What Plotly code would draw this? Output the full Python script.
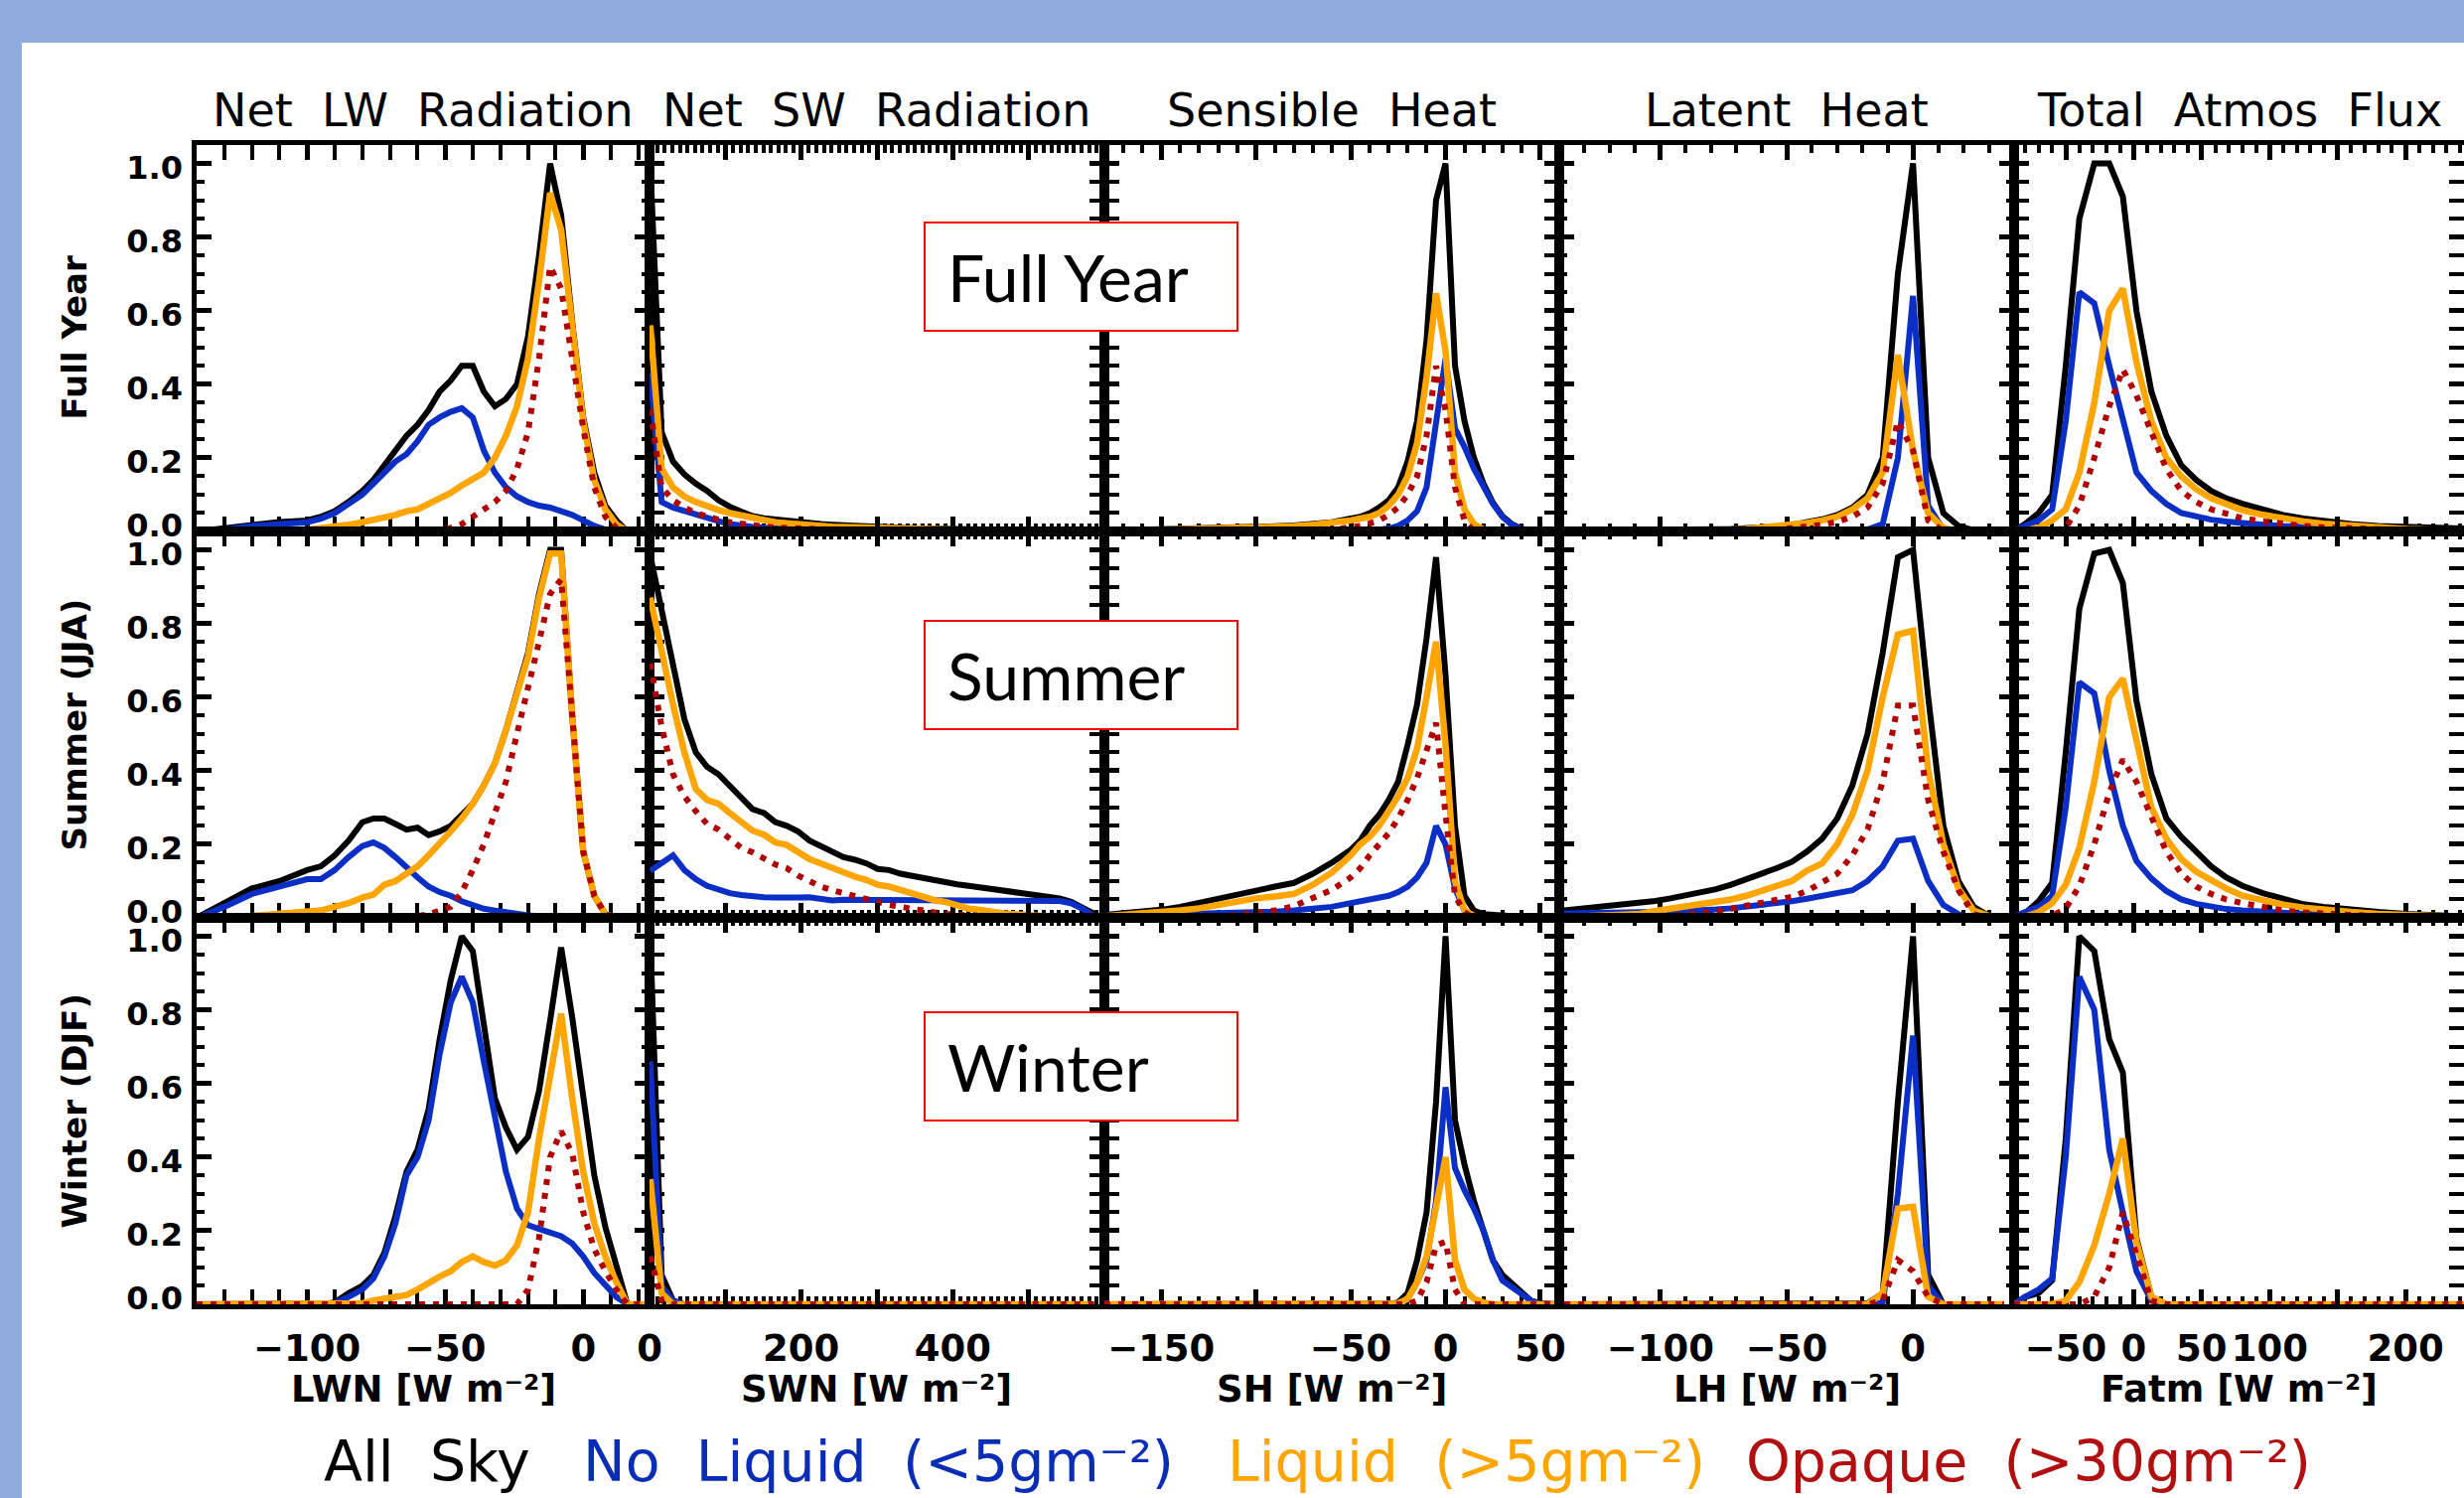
import plotly.graph_objects as go

W, H = 2481, 1508

# ---------------- data ----------------
LWN_X = [-140, -130, -120, -110, -100, -95, -90, -85, -80, -76, -72, -68, -64, -60, -56, -52, -48, -44,
         -40, -36, -32, -28, -24, -20, -16, -12, -8, -4, 0, 4, 8, 12, 16, 20, 24]
LWN_FY_ALL = [0.0, 0.01, 0.02, 0.026, 0.03, 0.04, 0.055, 0.08, 0.11, 0.14, 0.18, 0.22, 0.26, 0.29, 0.33, 0.38, 0.41, 0.45,
              0.45, 0.38, 0.34, 0.36, 0.40, 0.53, 0.75, 1.0, 0.86, 0.57, 0.31, 0.16, 0.07, 0.03, 0.0, 0.0, 0.0]
LWN_FY_NOLIQ = [0.0, 0.005, 0.015, 0.02, 0.025, 0.035, 0.05, 0.075, 0.10, 0.13, 0.16, 0.19, 0.21, 0.245, 0.29, 0.31, 0.325, 0.335,
                0.31, 0.22, 0.16, 0.12, 0.095, 0.08, 0.07, 0.065, 0.055, 0.045, 0.03, 0.015, 0.005, 0.0, 0.0, 0.0, 0.0]
LWN_FY_LIQ = [0.0, 0.0, 0.002, 0.003, 0.005, 0.008, 0.012, 0.018, 0.025, 0.03, 0.038, 0.045, 0.055, 0.06, 0.075, 0.09, 0.105, 0.125,
              0.145, 0.16, 0.2, 0.26, 0.34, 0.47, 0.68, 0.92, 0.82, 0.55, 0.30, 0.14, 0.06, 0.02, 0.0, 0.0, 0.0]
LWN_FY_OPQ = [0.0, 0.0, 0.0, 0.0, 0.0, 0.0, 0.0, 0.0, 0.0, 0.0, 0.0, 0.0, 0.0, 0.0, 0.0, 0.0, 0.01, 0.02,
              0.04, 0.06, 0.08, 0.11, 0.17, 0.27, 0.47, 0.72, 0.66, 0.47, 0.28, 0.12, 0.04, 0.01, 0.0, 0.0, 0.0]
LWN_SU_ALL = [0.0, 0.04, 0.08, 0.10, 0.13, 0.14, 0.17, 0.21, 0.26, 0.27, 0.27, 0.255, 0.24, 0.245, 0.225, 0.235, 0.25, 0.28,
              0.31, 0.36, 0.42, 0.51, 0.62, 0.72, 0.88, 1.0, 1.0, 0.55, 0.18, 0.06, 0.01, 0.0, 0.0, 0.0, 0.0]
LWN_SU_NOLIQ = [0.0, 0.03, 0.065, 0.085, 0.105, 0.105, 0.13, 0.165, 0.195, 0.205, 0.19, 0.165, 0.135, 0.11, 0.085, 0.07, 0.06, 0.045,
                0.035, 0.025, 0.02, 0.015, 0.01, 0.007, 0.005, 0.003, 0.0, 0.0, 0.0, 0.0, 0.0, 0.0, 0.0, 0.0, 0.0]
LWN_SU_LIQ = [0.0, 0.0, 0.005, 0.01, 0.015, 0.02, 0.03, 0.04, 0.055, 0.063, 0.09, 0.1, 0.12, 0.14, 0.17, 0.2, 0.235, 0.27,
              0.31, 0.36, 0.42, 0.51, 0.61, 0.71, 0.87, 0.99, 0.99, 0.55, 0.18, 0.06, 0.01, 0.0, 0.0, 0.0, 0.0]
LWN_SU_OPQ = [0.0, 0.0, 0.0, 0.0, 0.0, 0.0, 0.0, 0.0, 0.0, 0.0, 0.0, 0.0, 0.0, 0.005, 0.01, 0.02, 0.03, 0.07,
              0.13, 0.2, 0.28, 0.37, 0.5, 0.62, 0.75, 0.88, 0.92, 0.55, 0.18, 0.06, 0.01, 0.0, 0.0, 0.0, 0.0]
LWN_WI_ALL = [0.0, 0.0, 0.0, 0.0, 0.0, 0.0, 0.005, 0.03, 0.05, 0.08, 0.14, 0.24, 0.36, 0.42, 0.53, 0.72, 0.88, 1.0,
              0.96, 0.75, 0.56, 0.48, 0.42, 0.455, 0.58, 0.77, 0.97, 0.78, 0.55, 0.35, 0.21, 0.1, 0.0, 0.0, 0.0]
LWN_WI_NOLIQ = [0.0, 0.0, 0.0, 0.0, 0.0, 0.0, 0.003, 0.02, 0.04, 0.07, 0.13, 0.22, 0.35, 0.40, 0.50, 0.68, 0.82, 0.89,
                0.82, 0.66, 0.5, 0.36, 0.26, 0.215, 0.205, 0.195, 0.185, 0.165, 0.13, 0.085, 0.05, 0.02, 0.0, 0.0, 0.0]
LWN_WI_LIQ = [0.0, 0.0, 0.0, 0.0, 0.0, 0.0, 0.0, 0.0, 0.003, 0.01, 0.015, 0.02, 0.025, 0.04, 0.06, 0.075, 0.09, 0.115,
              0.13, 0.115, 0.105, 0.12, 0.16, 0.25, 0.45, 0.63, 0.79, 0.56, 0.36, 0.22, 0.13, 0.06, 0.0, 0.0, 0.0]
LWN_WI_OPQ = [0.0, 0.0, 0.0, 0.0, 0.0, 0.0, 0.0, 0.0, 0.0, 0.0, 0.0, 0.0, 0.0, 0.0, 0.0, 0.0, 0.0, 0.0,
              0.0, 0.0, 0.0, 0.0, 0.0, 0.04, 0.18, 0.4, 0.47, 0.41, 0.25, 0.15, 0.09, 0.04, 0.0, 0.0, 0.0]

SWN_X = [1, 16, 31, 46, 61, 76, 91, 106, 121, 136, 151, 166, 181, 196, 211, 226, 241, 256, 271, 286,
         301, 316, 331, 346, 361, 376, 391, 406, 421, 436, 451, 466, 481, 496, 511, 526, 541, 556, 571, 586]
SWN_FY_ALL = [1.0, 0.27, 0.19, 0.155, 0.13, 0.11, 0.085, 0.067, 0.054, 0.042, 0.036, 0.032, 0.028, 0.025, 0.022, 0.02, 0.018, 0.016, 0.015, 0.014,
              0.012, 0.011, 0.01, 0.009, 0.008, 0.008, 0.007, 0.007, 0.006, 0.006, 0.005, 0.005, 0.004, 0.004, 0.004, 0.003, 0.003, 0.003, 0.002, 0.002]
SWN_FY_NOLIQ = [0.43, 0.08, 0.065, 0.055, 0.045, 0.035, 0.028, 0.02, 0.015, 0.012, 0.01, 0.008, 0.007, 0.006, 0.005, 0.005, 0.004, 0.004, 0.003, 0.003,
                0.002, 0.002, 0.002, 0.002, 0.002, 0.002, 0.002, 0.002, 0.002, 0.002, 0.001, 0.001, 0.001, 0.001, 0.001, 0.001, 0.001, 0.001, 0.001, 0.001]
SWN_FY_LIQ = [0.56, 0.17, 0.12, 0.095, 0.08, 0.068, 0.058, 0.05, 0.043, 0.036, 0.03, 0.025, 0.022, 0.019, 0.017, 0.015, 0.013, 0.012, 0.011, 0.01,
              0.009, 0.008, 0.007, 0.007, 0.006, 0.005, 0.005, 0.004, 0.004, 0.003, 0.003, 0.003, 0.002, 0.002, 0.002, 0.002, 0.001, 0.001, 0.001, 0.001]
SWN_FY_OPQ = [0.33, 0.12, 0.085, 0.065, 0.05, 0.04, 0.032, 0.025, 0.02, 0.016, 0.013, 0.011, 0.009, 0.008, 0.007, 0.006, 0.005, 0.004, 0.004, 0.003,
              0.002, 0.002, 0.002, 0.002, 0.002, 0.002, 0.002, 0.002, 0.002, 0.002, 0.001, 0.001, 0.001, 0.001, 0.001, 0.001, 0.001, 0.001, 0.001, 0.001]
SWN_SU_ALL = [0.985, 0.83, 0.685, 0.54, 0.45, 0.41, 0.39, 0.36, 0.325, 0.295, 0.285, 0.26, 0.25, 0.235, 0.21, 0.195, 0.18, 0.165, 0.158, 0.148,
              0.133, 0.13, 0.12, 0.114, 0.106, 0.1, 0.097, 0.091, 0.087, 0.083, 0.079, 0.075, 0.071, 0.065, 0.06, 0.056, 0.053, 0.044, 0.03, 0.012]
SWN_SU_NOLIQ = [0.128, 0.148, 0.17, 0.13, 0.105, 0.087, 0.075, 0.067, 0.062, 0.058, 0.056, 0.055, 0.053, 0.055, 0.056, 0.05, 0.047, 0.049, 0.049, 0.049,
                0.048, 0.048, 0.047, 0.048, 0.049, 0.048, 0.047, 0.048, 0.05, 0.05, 0.049, 0.048, 0.049, 0.05, 0.048, 0.047, 0.046, 0.04, 0.025, 0.005]
SWN_SU_LIQ = [0.87, 0.72, 0.58, 0.45, 0.35, 0.32, 0.31, 0.285, 0.26, 0.237, 0.226, 0.205, 0.198, 0.18, 0.16, 0.148, 0.135, 0.122, 0.112, 0.103,
              0.09, 0.085, 0.075, 0.066, 0.055, 0.048, 0.043, 0.035, 0.025, 0.022, 0.016, 0.012, 0.01, 0.007, 0.004, 0.003, 0.002, 0.001, 0.0, 0.0]
SWN_SU_OPQ = [0.69, 0.52, 0.39, 0.33, 0.29, 0.255, 0.24, 0.215, 0.19, 0.178, 0.16, 0.145, 0.135, 0.115, 0.1, 0.085, 0.075, 0.067, 0.058, 0.05,
              0.04, 0.035, 0.03, 0.024, 0.019, 0.015, 0.011, 0.008, 0.006, 0.004, 0.003, 0.002, 0.001, 0.001, 0.0, 0.0, 0.0, 0.0, 0.0, 0.0]
SWN_WI_ALL = [1.0, 0.08, 0.01, 0.0, 0.0, 0.0, 0.0, 0.0, 0.0, 0.0, 0.0, 0.0, 0.0, 0.0, 0.0, 0.0, 0.0, 0.0, 0.0, 0.0,
              0.0, 0.0, 0.0, 0.0, 0.0, 0.0, 0.0, 0.0, 0.0, 0.0, 0.0, 0.0, 0.0, 0.0, 0.0, 0.0, 0.0, 0.0, 0.0, 0.0]
SWN_WI_NOLIQ = [0.66, 0.05, 0.01, 0.0, 0.0, 0.0, 0.0, 0.0, 0.0, 0.0, 0.0, 0.0, 0.0, 0.0, 0.0, 0.0, 0.0, 0.0, 0.0, 0.0,
                0.0, 0.0, 0.0, 0.0, 0.0, 0.0, 0.0, 0.0, 0.0, 0.0, 0.0, 0.0, 0.0, 0.0, 0.0, 0.0, 0.0, 0.0, 0.0, 0.0]
SWN_WI_LIQ = [0.34, 0.03, 0.0, 0.0, 0.0, 0.0, 0.0, 0.0, 0.0, 0.0, 0.0, 0.0, 0.0, 0.0, 0.0, 0.0, 0.0, 0.0, 0.0, 0.0,
              0.0, 0.0, 0.0, 0.0, 0.0, 0.0, 0.0, 0.0, 0.0, 0.0, 0.0, 0.0, 0.0, 0.0, 0.0, 0.0, 0.0, 0.0, 0.0, 0.0]
SWN_WI_OPQ = [0.13, 0.01, 0.0, 0.0, 0.0, 0.0, 0.0, 0.0, 0.0, 0.0, 0.0, 0.0, 0.0, 0.0, 0.0, 0.0, 0.0, 0.0, 0.0, 0.0,
              0.0, 0.0, 0.0, 0.0, 0.0, 0.0, 0.0, 0.0, 0.0, 0.0, 0.0, 0.0, 0.0, 0.0, 0.0, 0.0, 0.0, 0.0, 0.0, 0.0]

SH_X = [-180, -170, -160, -150, -140, -130, -120, -110, -100, -90, -80, -70, -60, -50, -45, -40, -35, -30,
        -25, -20, -15, -10, -5, 0, 5, 10, 15, 20, 25, 30, 35, 40, 45, 50, 55, 60]
SH_FY_ALL = [0.002, 0.003, 0.003, 0.004, 0.005, 0.006, 0.008, 0.01, 0.012, 0.014, 0.016, 0.02, 0.025, 0.035, 0.04, 0.05, 0.065, 0.085,
             0.12, 0.19, 0.30, 0.52, 0.9, 1.0, 0.45, 0.3, 0.2, 0.13, 0.078, 0.042, 0.02, 0.007, 0.002, 0.0, 0.0, 0.0]
SH_FY_NOLIQ = [0.001, 0.001, 0.001, 0.001, 0.001, 0.001, 0.001, 0.001, 0.002, 0.002, 0.002, 0.002, 0.002, 0.003, 0.003, 0.004, 0.005, 0.008,
               0.015, 0.03, 0.055, 0.12, 0.3, 0.47, 0.28, 0.23, 0.17, 0.12, 0.075, 0.04, 0.018, 0.006, 0.001, 0.0, 0.0, 0.0]
SH_FY_LIQ = [0.001, 0.002, 0.002, 0.003, 0.004, 0.005, 0.007, 0.008, 0.01, 0.012, 0.014, 0.018, 0.022, 0.03, 0.035, 0.04, 0.05, 0.07,
             0.1, 0.15, 0.24, 0.42, 0.647, 0.49, 0.16, 0.06, 0.02, 0.005, 0.0, 0.0, 0.0, 0.0, 0.0, 0.0, 0.0, 0.0]
SH_FY_OPQ = [0.0, 0.0, 0.0, 0.0, 0.001, 0.001, 0.001, 0.002, 0.002, 0.002, 0.003, 0.003, 0.005, 0.01, 0.015, 0.022, 0.03, 0.045,
             0.065, 0.1, 0.15, 0.26, 0.45, 0.33, 0.12, 0.03, 0.0, 0.0, 0.0, 0.0, 0.0, 0.0, 0.0, 0.0, 0.0, 0.0]
SH_SU_ALL = [0.008, 0.012, 0.017, 0.022, 0.03, 0.042, 0.052, 0.065, 0.074, 0.085, 0.095, 0.12, 0.15, 0.185, 0.21, 0.25, 0.28, 0.32,
             0.37, 0.47, 0.58, 0.76, 0.98, 0.66, 0.25, 0.06, 0.02, 0.01, 0.008, 0.005, 0.003, 0.002, 0.001, 0.0, 0.0, 0.0]
SH_SU_NOLIQ = [0.005, 0.006, 0.007, 0.008, 0.009, 0.01, 0.012, 0.013, 0.015, 0.017, 0.02, 0.025, 0.03, 0.04, 0.045, 0.05, 0.055, 0.06,
               0.07, 0.085, 0.11, 0.15, 0.25, 0.2, 0.08, 0.02, 0.005, 0.0, 0.0, 0.0, 0.0, 0.0, 0.0, 0.0, 0.0, 0.0]
SH_SU_LIQ = [0.005, 0.008, 0.011, 0.015, 0.02, 0.026, 0.035, 0.045, 0.053, 0.058, 0.065, 0.09, 0.123, 0.17, 0.2, 0.22, 0.25, 0.29,
             0.33, 0.38, 0.46, 0.6, 0.75, 0.47, 0.1, 0.02, 0.005, 0.0, 0.0, 0.0, 0.0, 0.0, 0.0, 0.0, 0.0, 0.0]
SH_SU_OPQ = [0.001, 0.001, 0.002, 0.002, 0.003, 0.004, 0.005, 0.008, 0.012, 0.02, 0.032, 0.053, 0.076, 0.11, 0.135, 0.17, 0.2, 0.23,
             0.27, 0.32, 0.38, 0.45, 0.53, 0.28, 0.06, 0.015, 0.0, 0.0, 0.0, 0.0, 0.0, 0.0, 0.0, 0.0, 0.0, 0.0]
SH_WI_ALL = [0.0, 0.0, 0.0, 0.0, 0.0, 0.0, 0.0, 0.0, 0.0, 0.0, 0.0, 0.0, 0.0, 0.0, 0.0, 0.0, 0.0, 0.0,
             0.005, 0.03, 0.12, 0.25, 0.55, 1.0, 0.5, 0.38, 0.28, 0.2, 0.12, 0.08, 0.055, 0.03, 0.01, 0.003, 0.0, 0.0]
SH_WI_NOLIQ = [0.0, 0.0, 0.0, 0.0, 0.0, 0.0, 0.0, 0.0, 0.0, 0.0, 0.0, 0.0, 0.0, 0.0, 0.0, 0.0, 0.0, 0.0,
               0.003, 0.015, 0.06, 0.12, 0.28, 0.59, 0.37, 0.31, 0.26, 0.2, 0.12, 0.065, 0.045, 0.03, 0.01, 0.0, 0.0, 0.0]
SH_WI_LIQ = [0.0, 0.0, 0.0, 0.0, 0.0, 0.0, 0.0, 0.0, 0.0, 0.0, 0.0, 0.0, 0.0, 0.0, 0.0, 0.0, 0.0, 0.0,
             0.002, 0.015, 0.06, 0.13, 0.27, 0.4, 0.12, 0.04, 0.015, 0.005, 0.0, 0.0, 0.0, 0.0, 0.0, 0.0, 0.0, 0.0]
SH_WI_OPQ = [0.0, 0.0, 0.0, 0.0, 0.0, 0.0, 0.0, 0.0, 0.0, 0.0, 0.0, 0.0, 0.0, 0.0, 0.0, 0.0, 0.0, 0.0,
             0.0, 0.0, 0.01, 0.06, 0.16, 0.17, 0.04, 0.0, 0.0, 0.0, 0.0, 0.0, 0.0, 0.0, 0.0, 0.0, 0.0, 0.0]

LH_X = [-138, -132, -126, -120, -114, -108, -102, -96, -90, -84, -78, -72, -66, -60, -54,
        -48, -42, -36, -30, -24, -18, -12, -6, 0, 6, 12, 18, 24, 30, 36]
LH_FY_ALL = [0.002, 0.002, 0.002, 0.003, 0.003, 0.003, 0.004, 0.004, 0.005, 0.005, 0.006, 0.007, 0.008, 0.01, 0.013,
             0.018, 0.025, 0.033, 0.045, 0.065, 0.1, 0.2, 0.7, 1.0, 0.2, 0.05, 0.015, 0.003, 0.0, 0.0]
LH_FY_NOLIQ = [0.001, 0.001, 0.001, 0.001, 0.001, 0.001, 0.001, 0.001, 0.001, 0.001, 0.002, 0.002, 0.002, 0.002, 0.002,
               0.002, 0.002, 0.002, 0.002, 0.003, 0.005, 0.02, 0.2, 0.64, 0.07, 0.005, 0.0, 0.0, 0.0, 0.0]
LH_FY_LIQ = [0.001, 0.001, 0.002, 0.002, 0.002, 0.002, 0.003, 0.003, 0.003, 0.004, 0.004, 0.005, 0.007, 0.01, 0.013,
             0.017, 0.023, 0.03, 0.04, 0.06, 0.09, 0.16, 0.48, 0.22, 0.05, 0.01, 0.0, 0.0, 0.0, 0.0]
LH_FY_OPQ = [0.0, 0.0, 0.0, 0.0, 0.001, 0.001, 0.001, 0.001, 0.001, 0.002, 0.002, 0.002, 0.002, 0.002, 0.005,
             0.008, 0.012, 0.018, 0.026, 0.04, 0.065, 0.13, 0.3, 0.22, 0.03, 0.0, 0.0, 0.0, 0.0, 0.0]
LH_SU_ALL = [0.02, 0.024, 0.028, 0.033, 0.036, 0.04, 0.046, 0.053, 0.06, 0.068, 0.078, 0.09, 0.104, 0.118, 0.135,
             0.152, 0.18, 0.215, 0.27, 0.36, 0.5, 0.72, 0.98, 1.0, 0.6, 0.25, 0.1, 0.03, 0.005, 0.0]
LH_SU_NOLIQ = [0.012, 0.012, 0.013, 0.014, 0.014, 0.015, 0.016, 0.017, 0.018, 0.02, 0.023, 0.026, 0.03, 0.033, 0.038,
               0.045, 0.052, 0.06, 0.068, 0.075, 0.1, 0.14, 0.21, 0.215, 0.1, 0.035, 0.01, 0.0, 0.0, 0.0]
LH_SU_LIQ = [0.002, 0.003, 0.004, 0.006, 0.008, 0.011, 0.019, 0.025, 0.03, 0.036, 0.043, 0.05, 0.06, 0.073, 0.085,
             0.1, 0.128, 0.148, 0.2, 0.28, 0.4, 0.6, 0.77, 0.78, 0.4, 0.2, 0.08, 0.02, 0.005, 0.0]
LH_SU_OPQ = [0.0, 0.0, 0.0, 0.0, 0.0, 0.001, 0.003, 0.005, 0.008, 0.012, 0.017, 0.025, 0.032, 0.04, 0.048,
             0.057, 0.073, 0.095, 0.12, 0.17, 0.24, 0.37, 0.577, 0.577, 0.32, 0.18, 0.075, 0.01, 0.0, 0.0]
LH_WI_ALL = [0.0, 0.0, 0.0, 0.0, 0.0, 0.0, 0.0, 0.0, 0.0, 0.0, 0.0, 0.0, 0.0, 0.0, 0.0,
             0.0, 0.0, 0.0, 0.0, 0.0, 0.003, 0.03, 0.55, 1.0, 0.08, 0.0, 0.0, 0.0, 0.0, 0.0]
LH_WI_NOLIQ = [0.0, 0.0, 0.0, 0.0, 0.0, 0.0, 0.0, 0.0, 0.0, 0.0, 0.0, 0.0, 0.0, 0.0, 0.0,
               0.0, 0.0, 0.0, 0.0, 0.0, 0.0, 0.005, 0.3, 0.73, 0.05, 0.0, 0.0, 0.0, 0.0, 0.0]
LH_WI_LIQ = [0.0, 0.0, 0.0, 0.0, 0.0, 0.0, 0.0, 0.0, 0.0, 0.0, 0.0, 0.0, 0.0, 0.0, 0.0,
             0.0, 0.0, 0.0, 0.0, 0.0, 0.0, 0.03, 0.26, 0.265, 0.02, 0.0, 0.0, 0.0, 0.0, 0.0]
LH_WI_OPQ = [0.0, 0.0, 0.0, 0.0, 0.0, 0.0, 0.0, 0.0, 0.0, 0.0, 0.0, 0.0, 0.0, 0.0, 0.0,
             0.0, 0.0, 0.0, 0.0, 0.0, 0.0, 0.01, 0.12, 0.09, 0.02, 0.0, 0.0, 0.0, 0.0, 0.0]

FATM_X = [-88, -80, -70, -60, -50, -40, -29, -18, -8, 2, 13, 24, 35, 46, 57, 68, 80, 95, 110, 125, 140, 160, 180, 200, 220, 243]
FATM_FY_ALL = [0.003, 0.02, 0.05, 0.1, 0.45, 0.85, 1.0, 1.0, 0.91, 0.6, 0.38, 0.26, 0.18, 0.14, 0.11, 0.09, 0.075, 0.06, 0.045,
               0.035, 0.027, 0.02, 0.015, 0.012, 0.01, 0.008]
FATM_FY_NOLIQ = [0.003, 0.015, 0.03, 0.06, 0.3, 0.65, 0.62, 0.45, 0.3, 0.16, 0.11, 0.075, 0.05, 0.04, 0.032, 0.027, 0.022, 0.018,
                 0.015, 0.013, 0.011, 0.009, 0.007, 0.005, 0.004, 0.003]
FATM_FY_LIQ = [0.0, 0.002, 0.01, 0.03, 0.06, 0.16, 0.35, 0.6, 0.66, 0.46, 0.3, 0.2, 0.15, 0.115, 0.09, 0.073, 0.058, 0.045,
               0.035, 0.027, 0.021, 0.015, 0.01, 0.007, 0.005, 0.003]
FATM_FY_OPQ = [0.0, 0.0, 0.0, 0.0, 0.01, 0.07, 0.2, 0.34, 0.44, 0.37, 0.27, 0.17, 0.11, 0.08, 0.06, 0.047, 0.036, 0.027,
               0.02, 0.015, 0.011, 0.008, 0.005, 0.003, 0.002, 0.001]
FATM_SU_ALL = [0.005, 0.012, 0.045, 0.095, 0.45, 0.84, 0.99, 1.0, 0.91, 0.59, 0.39, 0.27, 0.22, 0.18, 0.14, 0.11, 0.087, 0.067,
               0.05, 0.037, 0.03, 0.022, 0.016, 0.011, 0.007, 0.004]
FATM_SU_NOLIQ = [0.004, 0.015, 0.03, 0.06, 0.3, 0.64, 0.61, 0.4, 0.25, 0.155, 0.107, 0.073, 0.05, 0.038, 0.03, 0.024, 0.02, 0.016,
                 0.013, 0.011, 0.01, 0.008, 0.006, 0.005, 0.004, 0.003]
FATM_SU_LIQ = [0.0, 0.003, 0.015, 0.04, 0.09, 0.19, 0.37, 0.6, 0.65, 0.48, 0.3, 0.215, 0.16, 0.125, 0.1, 0.08, 0.06, 0.047,
               0.036, 0.028, 0.022, 0.016, 0.011, 0.008, 0.005, 0.003]
FATM_SU_OPQ = [0.0, 0.0, 0.0, 0.005, 0.026, 0.087, 0.2, 0.34, 0.43, 0.37, 0.27, 0.18, 0.12, 0.085, 0.065, 0.05, 0.04, 0.028,
               0.02, 0.015, 0.011, 0.008, 0.005, 0.003, 0.002, 0.001]
FATM_WI_ALL = [0.0, 0.02, 0.03, 0.065, 0.45, 1.0, 0.96, 0.72, 0.63, 0.18, 0.02, 0.0, 0.0, 0.0, 0.0, 0.0, 0.0, 0.0,
               0.0, 0.0, 0.0, 0.0, 0.0, 0.0, 0.0, 0.0]
FATM_WI_NOLIQ = [0.0, 0.02, 0.04, 0.07, 0.4, 0.89, 0.8, 0.42, 0.25, 0.09, 0.01, 0.0, 0.0, 0.0, 0.0, 0.0, 0.0, 0.0,
                 0.0, 0.0, 0.0, 0.0, 0.0, 0.0, 0.0, 0.0]
FATM_WI_LIQ = [0.0, 0.0, 0.0, 0.0, 0.01, 0.06, 0.16, 0.3, 0.45, 0.17, 0.02, 0.0, 0.0, 0.0, 0.0, 0.0, 0.0, 0.0,
               0.0, 0.0, 0.0, 0.0, 0.0, 0.0, 0.0, 0.0]
FATM_WI_OPQ = [0.0, 0.0, 0.0, 0.0, 0.0, 0.0, 0.02, 0.1, 0.25, 0.14, 0.01, 0.0, 0.0, 0.0, 0.0, 0.0, 0.0, 0.0,
               0.0, 0.0, 0.0, 0.0, 0.0, 0.0, 0.0, 0.0]

COL_TITLES = ["Net LW Radiation", "Net SW Radiation", "Sensible Heat", "Latent Heat", "Total Atmos Flux"]
X_TITLES = ["LWN [W m\u207b\u00b2]", "SWN [W m\u207b\u00b2]", "SH [W m\u207b\u00b2]",
            "LH [W m\u207b\u00b2]", "Fatm [W m\u207b\u00b2]"]
ROW_TITLES = ["Full Year", "Summer (JJA)", "Winter (DJF)"]
BOX_LABELS = ["Full Year", "Summer", "Winter"]
Y_TICKS = [0.0, 0.2, 0.4, 0.6, 0.8, 1.0]
Y_LABEL_TICKS = [0.2, 0.4, 0.6, 0.8, 1.0]
Y_LABEL_TEXT = ["0.2", "0.4", "0.6", "0.8", "1.0"]
Y_ZERO_TICKS = [0.0]
Y_ZERO_TEXT = ["0.0"]

# labelled major ticks
LWN_TICKS = [-100, -50, 0]
LWN_TICK_TEXT = ["\u2212100", "\u221250", "0"]
SWN_TICKS = [0, 200, 400]
SWN_TICK_TEXT = ["0", "200", "400"]
SH_TICKS = [-150, -50, 0, 50]
SH_TICK_TEXT = ["\u2212150", "\u221250", "0", "50"]
LH_TICKS = [-100, -50, 0]
LH_TICK_TEXT = ["\u2212100", "\u221250", "0"]
FATM_TICKS = [-50, 0, 50, 100, 200]
FATM_TICK_TEXT = ["\u221250", "0", "50", "100", "200"]
# unlabelled major ticks
SWN_EXTRA_TICKS = [100, 300, 500]
SH_EXTRA_TICKS = [-100]
FATM_EXTRA_TICKS = [150]

LEGEND_LABELS = ["All Sky", "No Liquid (<5gm\u207b\u00b2)", "Liquid (>5gm\u207b\u00b2)",
                 "Opaque (>30gm\u207b\u00b2)"]

# ---------------- styling / layout ----------------
BLACK = "#000000"
BLUE = "#0B2EC4"
ORANGE = "#FFA500"
RED = "#B00000"
SERIES_STYLE = [
    dict(color=BLACK, width=6, dash="solid"),
    dict(color=BLUE, width=6, dash="solid"),
    dict(color=ORANGE, width=6.5, dash="solid"),
    dict(color=RED, width=6, dash="6px,8px"),
]
LEGEND_COLORS = ["#000000", "#0A2DB5", "#FFA500", "#B01010"]
LEGEND_X_PX = [324, 585, 1234, 1756]

COL_PX = [198, 654, 1112, 1570, 2028, 2481]
ROW_PX = [146, 535, 924, 1313]
BOX_ROWS_PX = [(224, 333), (625, 734), (1019, 1128)]
BOX_X_PX = (931, 1246)
Y_RANGE = [0, 1.05]
LABEL_DOWN_PX = 4     # y labels sit slightly below their ticks
ZERO_UP_PX = 6        # "0.0" sits slightly above the bottom frame

columns = [
    dict(x=LWN_X, rng=[-140, 24], tv=LWN_TICKS, tt=LWN_TICK_TEXT, extra=None,
         rows=[[LWN_FY_ALL, LWN_FY_NOLIQ, LWN_FY_LIQ, LWN_FY_OPQ],
               [LWN_SU_ALL, LWN_SU_NOLIQ, LWN_SU_LIQ, LWN_SU_OPQ],
               [LWN_WI_ALL, LWN_WI_NOLIQ, LWN_WI_LIQ, LWN_WI_OPQ]]),
    dict(x=SWN_X, rng=[0, 600], tv=SWN_TICKS, tt=SWN_TICK_TEXT, extra=SWN_EXTRA_TICKS,
         rows=[[SWN_FY_ALL, SWN_FY_NOLIQ, SWN_FY_LIQ, SWN_FY_OPQ],
               [SWN_SU_ALL, SWN_SU_NOLIQ, SWN_SU_LIQ, SWN_SU_OPQ],
               [SWN_WI_ALL, SWN_WI_NOLIQ, SWN_WI_LIQ, SWN_WI_OPQ]]),
    dict(x=SH_X, rng=[-180, 60], tv=SH_TICKS, tt=SH_TICK_TEXT, extra=SH_EXTRA_TICKS,
         rows=[[SH_FY_ALL, SH_FY_NOLIQ, SH_FY_LIQ, SH_FY_OPQ],
               [SH_SU_ALL, SH_SU_NOLIQ, SH_SU_LIQ, SH_SU_OPQ],
               [SH_WI_ALL, SH_WI_NOLIQ, SH_WI_LIQ, SH_WI_OPQ]]),
    dict(x=LH_X, rng=[-140, 40], tv=LH_TICKS, tt=LH_TICK_TEXT, extra=None,
         rows=[[LH_FY_ALL, LH_FY_NOLIQ, LH_FY_LIQ, LH_FY_OPQ],
               [LH_SU_ALL, LH_SU_NOLIQ, LH_SU_LIQ, LH_SU_OPQ],
               [LH_WI_ALL, LH_WI_NOLIQ, LH_WI_LIQ, LH_WI_OPQ]]),
    dict(x=FATM_X, rng=[-88, 243], tv=FATM_TICKS, tt=FATM_TICK_TEXT, extra=FATM_EXTRA_TICKS,
         rows=[[FATM_FY_ALL, FATM_FY_NOLIQ, FATM_FY_LIQ, FATM_FY_OPQ],
               [FATM_SU_ALL, FATM_SU_NOLIQ, FATM_SU_LIQ, FATM_SU_OPQ],
               [FATM_WI_ALL, FATM_WI_NOLIQ, FATM_WI_LIQ, FATM_WI_OPQ]]),
]


def px_x(p):
    return p / W


def px_y(p):
    return 1 - p / H


fig = go.Figure()
layout_axes = {}
TICK_FONT = dict(family="DejaVu Sans", size=37, color="black", weight="bold")
YTICK_FONT = dict(family="DejaVu Sans", size=32, color="black", weight="bold")
extra_x = 16
extra_y = 16
row_h = ROW_PX[1] - ROW_PX[0]
units_per_px = (Y_RANGE[1] - Y_RANGE[0]) / row_h


def add_anchor_trace(xref, yref):
    # empty trace so that a helper (ticks / labels only) axis gets drawn
    fig.add_trace(go.Scatter(x=[], y=[], mode="lines", xaxis=xref, yaxis=yref,
                             showlegend=False, hoverinfo="skip"))


for r in range(3):
    for c in range(5):
        k = r * 5 + c + 1
        col = columns[c]
        xname = "xaxis" if k == 1 else f"xaxis{k}"
        yname = "yaxis" if k == 1 else f"yaxis{k}"
        for s, ys in enumerate(col["rows"][r]):
            fig.add_trace(go.Scatter(
                x=col["x"], y=ys, mode="lines", line=SERIES_STYLE[s],
                xaxis=f"x{k}", yaxis=f"y{k}", showlegend=False, hoverinfo="skip"))
        xdom = [px_x(COL_PX[c]), px_x(COL_PX[c + 1])]
        ydom = [px_y(ROW_PX[r + 1]), px_y(ROW_PX[r])]
        layout_axes[xname] = dict(
            domain=xdom, range=col["rng"], anchor=f"y{k}",
            showline=True, linewidth=5, linecolor=BLACK, mirror="allticks",
            ticks="inside", ticklen=15, tickwidth=5, tickcolor=BLACK,
            tickmode="array", tickvals=col["tv"], ticktext=col["tt"],
            showticklabels=(r == 2), tickfont=TICK_FONT, ticklabelstandoff=8,
            minor=dict(ticks="inside", ticklen=8, tickwidth=4, tickcolor=BLACK,
                       tickmode="linear", tick0=0, dtick=10),
            showgrid=False, zeroline=False, layer="below traces", fixedrange=True)
        layout_axes[yname] = dict(
            domain=ydom, range=Y_RANGE, anchor=f"x{k}",
            showline=True, linewidth=5, linecolor=BLACK, mirror="allticks",
            ticks="inside", ticklen=15, tickwidth=5, tickcolor=BLACK,
            tickmode="array", tickvals=Y_TICKS, showticklabels=False,
            minor=dict(ticks="inside", ticklen=8, tickwidth=4, tickcolor=BLACK,
                       tickmode="linear", tick0=0, dtick=0.05),
            showgrid=False, zeroline=False, layer="below traces", fixedrange=True)
        if col["extra"]:
            layout_axes[f"xaxis{extra_x}"] = dict(
                domain=xdom, range=col["rng"], anchor=f"y{k}", overlaying=f"x{k}",
                showline=False, mirror="ticks", ticks="inside", ticklen=15, tickwidth=5,
                tickcolor=BLACK, tickmode="array", tickvals=col["extra"],
                showticklabels=False, showgrid=False, zeroline=False, fixedrange=True)
            add_anchor_trace(f"x{extra_x}", f"y{k}")
            extra_x += 1
        if c == 0:
            s_down = LABEL_DOWN_PX * units_per_px
            s_up = ZERO_UP_PX * units_per_px
            for tv, tt, shift in ((Y_LABEL_TICKS, Y_LABEL_TEXT, s_down), (Y_ZERO_TICKS, Y_ZERO_TEXT, -s_up)):
                layout_axes[f"yaxis{extra_y}"] = dict(
                    domain=ydom, range=[Y_RANGE[0] + shift, Y_RANGE[1] + shift],
                    anchor=f"x{k}", overlaying=f"y{k}", side="left",
                    showline=False, ticks="", tickmode="array", tickvals=tv, ticktext=tt,
                    showticklabels=True, tickfont=YTICK_FONT, ticklabelstandoff=13,
                    showgrid=False, zeroline=False, fixedrange=True)
                add_anchor_trace(f"x{k}", f"y{extra_y}")
                extra_y += 1

annotations = []
for c, t in enumerate(COL_TITLES):
    annotations.append(dict(
        x=px_x((COL_PX[c] + COL_PX[c + 1]) / 2), y=px_y(111), xref="paper", yref="paper",
        text=t.replace(" ", "\u00a0 "), showarrow=False, xanchor="center", yanchor="middle",
        font=dict(family="DejaVu Sans", size=46, color="black")))
for c, t in enumerate(X_TITLES):
    annotations.append(dict(
        x=px_x((COL_PX[c] + COL_PX[c + 1]) / 2), y=px_y(1398), xref="paper", yref="paper",
        text=t, showarrow=False, xanchor="center", yanchor="middle",
        font=dict(family="DejaVu Sans", size=37, color="black", weight="bold")))
for r, t in enumerate(ROW_TITLES):
    annotations.append(dict(
        x=px_x(74), y=px_y((ROW_PX[r] + ROW_PX[r + 1]) / 2), xref="paper", yref="paper",
        text=t, showarrow=False, textangle=-90, xanchor="center", yanchor="middle",
        font=dict(family="DejaVu Sans", size=34, color="black", weight="bold")))
for (y0, y1), t in zip(BOX_ROWS_PX, BOX_LABELS):
    annotations.append(dict(
        x=px_x(952), y=px_y((y0 + y1) / 2), xref="paper", yref="paper",
        text=t, showarrow=False, xanchor="left", yanchor="middle",
        font=dict(family="Lato", size=66, color="black")))
for lbl, colr, xp in zip(LEGEND_LABELS, LEGEND_COLORS, LEGEND_X_PX):
    annotations.append(dict(
        x=px_x(xp), y=px_y(1471), xref="paper", yref="paper",
        text=lbl.replace("<", "&lt;").replace(">", "&gt;").replace(" ", "\u00a0 "),
        showarrow=False, xanchor="left", yanchor="middle",
        font=dict(family="DejaVu Sans", size=57, color=colr)))

shapes = [dict(type="rect", xref="paper", yref="paper", x0=px_x(22), x1=1.0, y0=0.0, y1=px_y(43),
               fillcolor="white", line=dict(width=0), layer="below")]
for (y0, y1) in BOX_ROWS_PX:
    shapes.append(dict(type="rect", xref="paper", yref="paper",
                       x0=px_x(BOX_X_PX[0]), x1=px_x(BOX_X_PX[1]), y0=px_y(y1), y1=px_y(y0),
                       fillcolor="white", line=dict(color="#FF0000", width=2), layer="above"))

fig.update_layout(
    width=W, height=H, margin=dict(l=0, r=0, t=0, b=0, autoexpand=False),
    paper_bgcolor="#8FAADC", plot_bgcolor="white",
    annotations=annotations, shapes=shapes, showlegend=False,
    **layout_axes)

fig.write_html("out.html")
